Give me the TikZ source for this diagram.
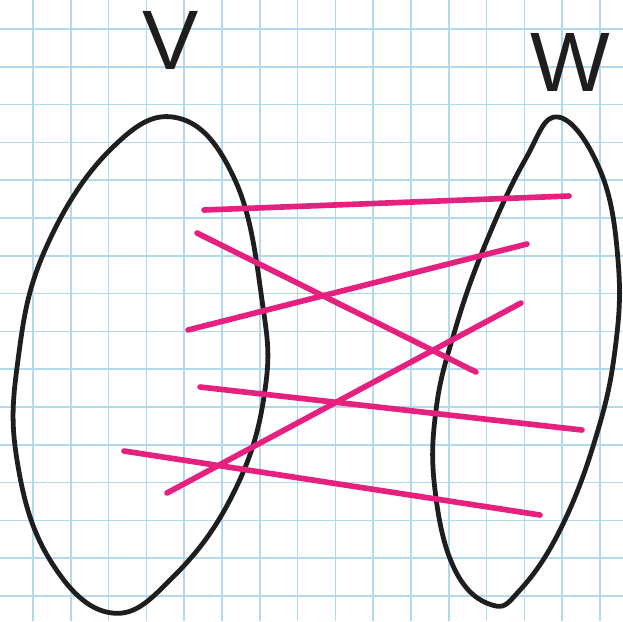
\documentclass[tikz,border=0pt]{standalone}
\usepackage{fontspec}
\setmainfont{Liberation Sans}
\usepackage{xcolor}
\definecolor{gridblue}{HTML}{B2D9EC}
\definecolor{edgepink}{HTML}{E6207F}
\definecolor{inkblack}{HTML}{1E1E1E}
\begin{document}
\begin{tikzpicture}[
    x=0.025cm, y=-0.025cm,
    gridline/.style={gridblue, line width=1.2pt},
    setline/.style={inkblack, line width=3.4pt, line join=round},
    edge/.style={edgepink, line width=4pt, line cap=round},
    setlabel/.style={inkblack, font=\fontsize{60}{64}\selectfont, inner sep=0pt}
]
\useasboundingbox[fill=white] (0,0) rectangle (623,621);

% graph paper
\foreach \k in {0,...,15} {
    \draw[gridline] ({33+37.8*\k},0) -- ({33+37.8*\k},621);
    \draw[gridline] (0,{29+37.8*\k}) -- (623,{29+37.8*\k});
}

% the two sets
\draw[setline] plot[smooth cycle, tension=0.7] coordinates {
    (178,118) (235,180) (262,300) (265,390) (235,490) (175,575)
    (112,613) (50,560) (17,460) (18,360) (45,250) (110,150)};
\draw[setline] plot[smooth cycle, tension=0.7] coordinates {
    (558,117) (600,170) (618,260) (615,350) (595,440) (560,530)
    (520,590) (492,605) (455,570) (435,490) (436,410) (455,330)
    (485,245) (525,160)};

\node[setlabel] (V) at (171,40) {V};
\node[setlabel] (W) at (570,62) {W};

% edge end points
\coordinate (v1) at (204,210);
\coordinate (v2) at (197,233);
\coordinate (v3) at (188,330);
\coordinate (v4) at (200,387);
\coordinate (v5) at (124,451);
\coordinate (v6) at (167,493);
\coordinate (w1) at (569,196);
\coordinate (w2) at (476,372);
\coordinate (w3) at (527,244);
\coordinate (w4) at (582,430);
\coordinate (w5) at (540,515);
\coordinate (w6) at (521,303);

% edges
\foreach \i in {1,...,6}
    \draw[edge] (v\i) -- (w\i);
\end{tikzpicture}
\end{document}
